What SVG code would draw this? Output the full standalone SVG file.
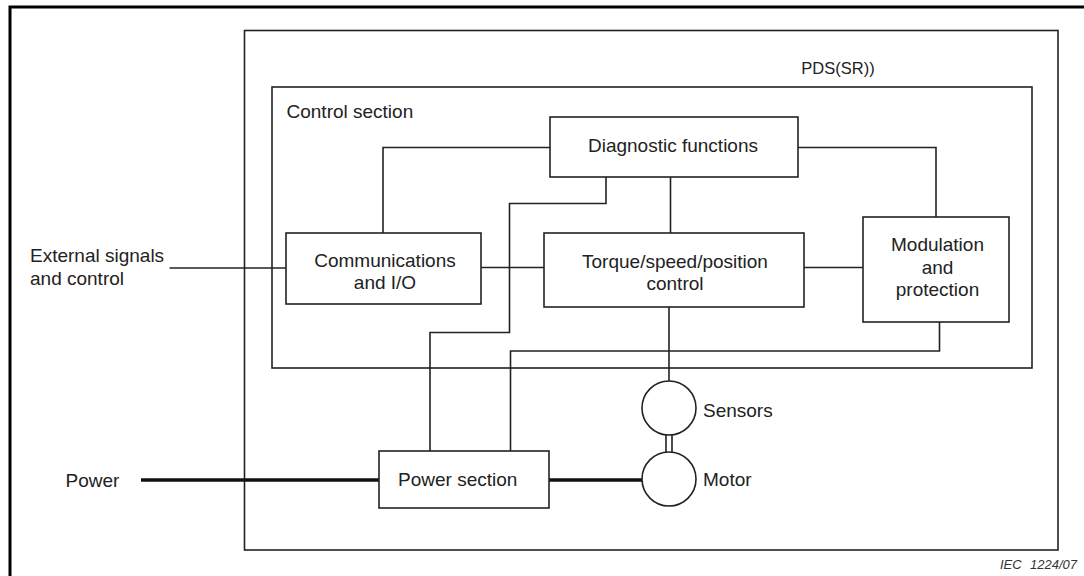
<svg xmlns="http://www.w3.org/2000/svg" width="1084" height="576" viewBox="0 0 1084 576">
<style>
.box{fill:#fff;stroke:#222;stroke-width:1.6}
.frame{fill:none;stroke:#222;stroke-width:1.6}
.ln{fill:none;stroke:#222;stroke-width:1.6}
.thick{fill:none;stroke:#111;stroke-width:3.5}
text{font-family:"Liberation Sans",Arial,sans-serif;font-size:19px;fill:#222}
.c{text-anchor:middle}
.iec{font-size:13px;font-style:italic;fill:#333}
</style>
<rect width="1084" height="576" fill="#fff"/>
<path d="M10,576 V7 H1084" fill="none" stroke="#000" stroke-width="3"/>
<g id="pds">
<rect class="frame" x="244.5" y="30.5" width="813.5" height="519.5"/>
<text class="c" x="838" y="74" style="font-size:16.5px">PDS(SR))</text>
</g>
<g id="control-section">
<rect class="frame" x="272" y="87" width="760" height="281"/>
<text x="286.5" y="118">Control section</text>
</g>
<g id="connectors">
<path class="ln" d="M383,233 V147.5 H550"/>
<path class="ln" d="M798,147.5 H936 V217"/>
<path class="ln" d="M670.5,177 V233"/>
<path class="ln" d="M606,177 V203.5 H509.5 V332.5 H430 V451"/>
<path class="ln" d="M939.5,322 V351 H510.5 V451"/>
<path class="ln" d="M669,307 V381"/>
<path class="ln" d="M169.5,268 H286"/>
<path class="ln" d="M481,267.5 H544"/>
<path class="ln" d="M804,267.5 H863"/>
<path class="thick" d="M141,480 H379"/>
<path class="thick" d="M549,480 H642"/>
<path class="ln" d="M666,435 V452 M672,435 V452"/>
</g>
<g id="diagnostic">
<rect class="box" x="550" y="117" width="248" height="60"/>
<text class="c" x="673" y="151.5">Diagnostic functions</text>
</g>
<g id="communications">
<rect class="box" x="286" y="233" width="195" height="71"/>
<text class="c" x="385" y="266.5">Communications</text>
<text class="c" x="385" y="289">and I/O</text>
</g>
<g id="torque">
<rect class="box" x="544" y="233" width="260" height="74"/>
<text class="c" x="675" y="267.5">Torque/speed/position</text>
<text class="c" x="675" y="289.5">control</text>
</g>
<g id="modulation">
<rect class="box" x="863" y="217" width="146" height="105"/>
<text class="c" x="937.5" y="251">Modulation</text>
<text class="c" x="937.5" y="273.5">and</text>
<text class="c" x="937.5" y="296">protection</text>
</g>
<g id="external">
<text x="30" y="262">External signals</text>
<text x="30" y="284.5">and control</text>
</g>
<g id="power-in">
<text x="65.5" y="487">Power</text>
</g>
<g id="power-section">
<rect class="box" x="379" y="451" width="170" height="57"/>
<text x="398" y="485.5">Power section</text>
</g>
<g id="sensors">
<circle class="box" cx="669" cy="408" r="27"/>
<text x="703" y="416.5">Sensors</text>
</g>
<g id="motor">
<circle class="box" cx="669" cy="479" r="27"/>
<text x="703" y="486">Motor</text>
</g>
<text class="iec" x="1000" y="569">IEC</text>
<text class="iec" x="1030" y="569">1224/07</text>
</svg>
